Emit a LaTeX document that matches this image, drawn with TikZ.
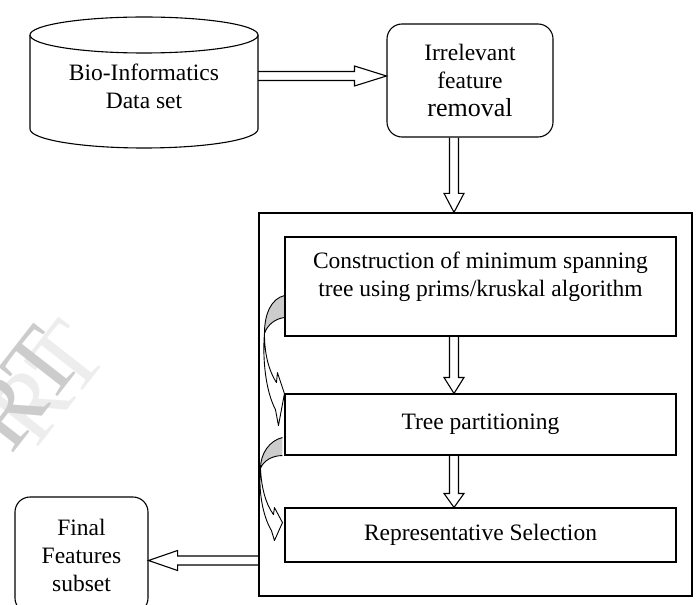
\documentclass[tikz,border=0pt]{standalone}
\usepackage{fontspec}
\setmainfont{Liberation Serif}
\usetikzlibrary{calc}
\pgfdeclarelayer{background}
\pgfsetlayers{background,main}
\newcommand\blkdown[3]{%
  \filldraw[blk] ($(#1)+(-4.5,0)$) -- ($(#2)+(-4.5,-#3)$) -- ($(#2)+(-10,-#3)$) -- (#2) -- ($(#2)+(10,-#3)$) -- ($(#2)+(4.5,-#3)$) -- ($(#1)+(4.5,0)$);}
\newcommand\blkright[3]{%
  \filldraw[blk] ($(#1)+(0,-4.5)$) -- ($(#2)+(-#3,-4.5)$) -- ($(#2)+(-#3,-10)$) -- (#2) -- ($(#2)+(-#3,10)$) -- ($(#2)+(-#3,4.5)$) -- ($(#1)+(0,4.5)$);}
\newcommand\blkleft[3]{%
  \filldraw[blk] ($(#1)+(0,-4.5)$) -- ($(#2)+(#3,-4.5)$) -- ($(#2)+(#3,-10)$) -- (#2) -- ($(#2)+(#3,10)$) -- ($(#2)+(#3,4.5)$) -- ($(#1)+(0,4.5)$);}
\begin{document}
\begin{tikzpicture}[x=1pt,y=-1pt,
  lw/.style={line width=1.1pt},
  txt/.style={font=\fontsize{23.5}{28}\selectfont, align=center, inner sep=0pt},
  rbox/.style={lw, draw, rounded corners=15pt, inner sep=0pt},
  sbox/.style={lw, draw, inner sep=0pt},
  blk/.style={lw, draw, fill=white, line join=miter},
  curl/.style={line width=0.9pt, draw, line join=round},
  wmark/.style={rotate=52, inner sep=0pt, font=\fontsize{98}{98}\selectfont},
]
\useasboundingbox (0,0) rectangle (700,604);

% watermark
\node[wmark, text=gray!14] (wmb) at (48,383) {RT};
\node[wmark, text=gray!40] (wma) at (23,389) {RT};

% cylinder
\node[txt, minimum width=228pt, minimum height=94pt] (data) at (144,86) {};
\coordinate (ctop) at ($(data.center)+(0,-51)$);
\coordinate (cbot) at ($(data.center)+(0,43)$);
\draw[lw, fill=white] ($(ctop)+(-114,0)$) -- ($(cbot)+(-114,0)$)
   arc[start angle=180, end angle=360, x radius=114pt, y radius=19pt] -- ($(ctop)+(114,0)$);
\draw[lw, fill=white] (ctop) ellipse [x radius=114pt, y radius=18pt];
\node[txt] (datatext) at (data.center) {Bio-Informatics\\Data set};

% boxes
\node[rbox, txt, minimum width=166pt, minimum height=113pt] (irr) at (470,80.5)
  {Irrelevant\\feature\\{\fontsize{26}{28}\selectfont removal}};
\node[sbox, line width=1.3pt, minimum width=433pt, minimum height=383pt] (big) at (475.5,404.5) {};
\node[sbox, minimum width=391pt, minimum height=99pt] (mst) at (480.5,286.5) {};
\node[txt] (msttext) at (480.5,276.5) {Construction of minimum spanning\\tree using prims/kruskal algorithm};
\node[sbox, txt, minimum width=391pt, minimum height=61pt] (tree) at (480.5,424.5) {Tree partitioning};
\node[sbox, txt, minimum width=391pt, minimum height=54pt] (rep) at (480.5,535) {Representative Selection};
\node[rbox, txt, minimum width=133pt, minimum height=116pt] (fin) at (81.5,555) {Final\\Features\\subset};

% connector end points
\coordinate (r1e) at ($(irr.west)+(0,-4.5)$);
\coordinate (r1s) at (data.east |- r1e);
\coordinate (d1s) at ($(irr.south)+(-16,0)$);
\coordinate (d1e) at ($(big.north)+(-21.5,0)$);
\coordinate (d2s) at ($(mst.south)+(-26.5,0)$);
\coordinate (d2e) at ($(tree.north)+(-26.5,0)$);
\coordinate (d3s) at ($(tree.south)+(-26.5,0)$);
\coordinate (d3e) at ($(rep.north)+(-26.5,0)$);
\coordinate (l1e) at ($(fin.east)+(0,5.5)$);
\coordinate (l1s) at (big.west |- l1e);

\begin{pgfonlayer}{background}
\blkright{r1s}{r1e}{32}
\blkdown{d1s}{d1e}{19}
\blkdown{d2s}{d2e}{16}
\blkdown{d3s}{d3e}{14}
\blkleft{l1s}{l1e}{29}

% curved arrow 1 (mst -> tree)
\begin{scope}[shift={(mst.south west)}]
  \fill[gray!40] (0,-41) .. controls (-13,-38) and (-20,-23) .. (-20,-3)
     .. controls (-17,-12) and (-9,-18) .. (0,-19) -- cycle;
  \draw[curl] (0,-41) .. controls (-13,-38) and (-20,-23) .. (-20,-3)
     .. controls (-17,-12) and (-9,-18) .. (0,-19);
  \filldraw[curl, fill=white] (-20,-3) .. controls (-22,22) and (-19,54) .. (-9,73)
     -- (-6,89) -- (0,57) -- (-7,36) -- (-8,46)
     .. controls (-17,32) and (-20,14) .. (-20,-3) -- cycle;
\end{scope}
% curved arrow 2 (tree -> rep)
\begin{scope}[shift={(tree.south west)}]
  \fill[gray!40] (-2,-18) .. controls (-15,-15) and (-24,-2) .. (-24,13)
     .. controls (-21,5) and (-12,0) .. (-2,0) -- cycle;
  \draw[curl] (-2,-18) .. controls (-15,-15) and (-24,-2) .. (-24,13)
     .. controls (-21,5) and (-12,0) .. (-2,0);
  \filldraw[curl, fill=white] (-24,13) .. controls (-26,35) and (-22,60) .. (-13,75)
     -- (-10,85) -- (-2,67) -- (-10,52) -- (-11,59)
     .. controls (-19,48) and (-23,32) .. (-24,13) -- cycle;
\end{scope}
\end{pgfonlayer}
\end{tikzpicture}
\end{document}
